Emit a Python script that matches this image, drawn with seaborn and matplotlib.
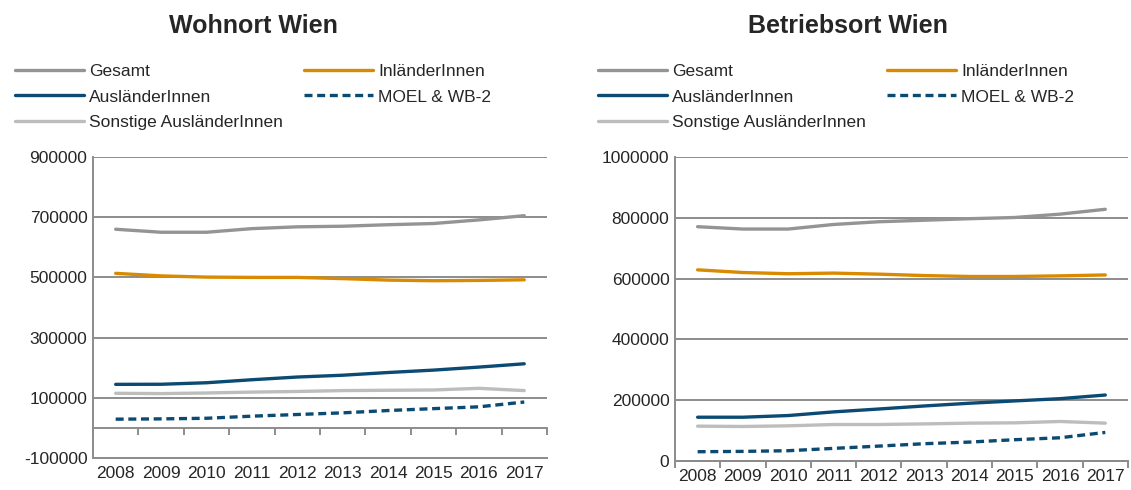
import matplotlib
matplotlib.use("Agg")
import matplotlib.pyplot as plt
import pandas as pd
import seaborn as sns
from matplotlib.ticker import FixedLocator, NullFormatter

years = [2008, 2009, 2010, 2011, 2012, 2013, 2014, 2015, 2016, 2017]
series_names = ["Gesamt", "InländerInnen", "AusländerInnen", "MOEL & WB-2", "Sonstige AusländerInnen"]

# Wohnort Wien
wohn_gesamt = [660000, 650000, 650000, 662000, 668000, 670000, 675000, 679000, 691000, 705000]
wohn_inland = [513500, 505000, 501000, 500000, 500000, 496000, 491000, 489000, 490000, 492000]
wohn_ausland = [144700, 145000, 150000, 160000, 169000, 175000, 184000, 192000, 202000, 213000]
wohn_moel = [29000, 30000, 32000, 39000, 44500, 50000, 57700, 64000, 70000, 86000]
wohn_sonstige = [115000, 114000, 116000, 119000, 121000, 124000, 125000, 126000, 131500, 124000]

# Betriebsort Wien
betr_gesamt = [770700, 763000, 763000, 778000, 787000, 792000, 797000, 801000, 812000, 828000]
betr_inland = [628800, 620000, 616000, 618000, 614600, 610000, 607000, 607000, 609000, 612000]
betr_ausland = [144000, 144000, 149500, 161500, 171000, 181000, 190000, 197600, 205000, 217000]
betr_moel = [30500, 31600, 33800, 41500, 49000, 56800, 62200, 70000, 76400, 94000]
betr_sonstige = [114600, 113500, 115700, 120000, 120000, 122000, 124500, 125500, 130000, 124500]

palette = {
    "Gesamt": "#949494",
    "InländerInnen": "#D98A00",
    "AusländerInnen": "#0B4A72",
    "MOEL & WB-2": "#0B4A72",
    "Sonstige AusländerInnen": "#BDBDBD",
}
dashes = {
    "Gesamt": "",
    "InländerInnen": "",
    "AusländerInnen": "",
    "MOEL & WB-2": (2.4, 1.4),
    "Sonstige AusländerInnen": "",
}

GRID = "#8C8C8C"


def to_long(values):
    rows = []
    for name, vals in zip(series_names, values):
        for i, v in enumerate(vals):
            rows.append({"pos": i, "year": years[i], "series": name, "value": v})
    return pd.DataFrame(rows)


def draw_panel(ax, df, ylim, ystep, zero_frac, title, title_x, legend_x):
    sns.lineplot(
        data=df, x="pos", y="value", hue="series", style="series",
        palette=palette, dashes=dashes, hue_order=series_names,
        style_order=series_names, linewidth=2.4, ax=ax, legend=True,
    )
    handles, labels = ax.get_legend_handles_labels()
    ax.get_legend().remove()
    lookup = dict(zip(labels, handles))
    order = ["Gesamt", "AusländerInnen", "Sonstige AusländerInnen", "InländerInnen", "MOEL & WB-2"]
    fig.legend(
        [lookup[o] for o in order], order, ncol=2, loc="upper left",
        bbox_to_anchor=(legend_x, 0.869), frameon=False, fontsize=12.5,
        handlelength=3.95, handletextpad=0.3, columnspacing=1.25,
        labelspacing=0.58, borderaxespad=0, borderpad=0,
    )

    ax.set_xlim(-0.5, len(years) - 0.5)
    ax.set_ylim(*ylim)
    ticks = list(range(ylim[0], ylim[1] + 1, ystep))
    ax.set_yticks(ticks)
    ax.set_yticklabels([str(t) for t in ticks])
    ax.set_xticks(range(len(years)))
    ax.set_xticklabels([str(y) for y in years])
    ax.tick_params(axis="x", length=0, labelsize=12.5, pad=6)
    ax.tick_params(axis="y", length=0, labelsize=12.5, pad=4)
    ax.set_xlabel("")
    ax.set_ylabel("")
    ax.grid(axis="y", color=GRID, linewidth=1.4)
    ax.grid(axis="x", visible=False)
    ax.set_axisbelow(True)
    for side in ("top", "right"):
        ax.spines[side].set_visible(False)
    for side in ("left", "bottom"):
        ax.spines[side].set_color(GRID)
        ax.spines[side].set_linewidth(1.4)

    # category axis crossing at zero with boundary tick marks
    sec = ax.secondary_xaxis(zero_frac)
    sec.spines["bottom"].set_color(GRID)
    sec.spines["bottom"].set_linewidth(1.4)
    sec.xaxis.set_major_locator(FixedLocator([i - 0.5 for i in range(len(years) + 1)]))
    sec.xaxis.set_major_formatter(NullFormatter())
    sec.tick_params(axis="x", length=5, width=1.4, color=GRID, direction="out")

    fig.text(title_x, 0.946, title, ha="center", va="center",
             fontsize=18, fontweight="bold")


sns.set_style("white")
plt.rcParams["font.family"] = ["Liberation Sans", "DejaVu Sans"]

fig = plt.figure(figsize=(11.31, 4.90), dpi=100)
ax1 = fig.add_axes([0.0822, 0.0653, 0.4014, 0.6143])
ax2 = fig.add_axes([0.5968, 0.0592, 0.4005, 0.6204])

draw_panel(ax1, to_long([wohn_gesamt, wohn_inland, wohn_ausland, wohn_moel, wohn_sonstige]),
           (-100000, 900000), 200000, 0.1, "Wohnort Wien", 253 / 1131, 15 / 1131)
draw_panel(ax2, to_long([betr_gesamt, betr_inland, betr_ausland, betr_moel, betr_sonstige]),
           (0, 1000000), 200000, 0.0, "Betriebsort Wien", 848 / 1131, 598 / 1131)

fig.savefig("out.png", dpi=100)
